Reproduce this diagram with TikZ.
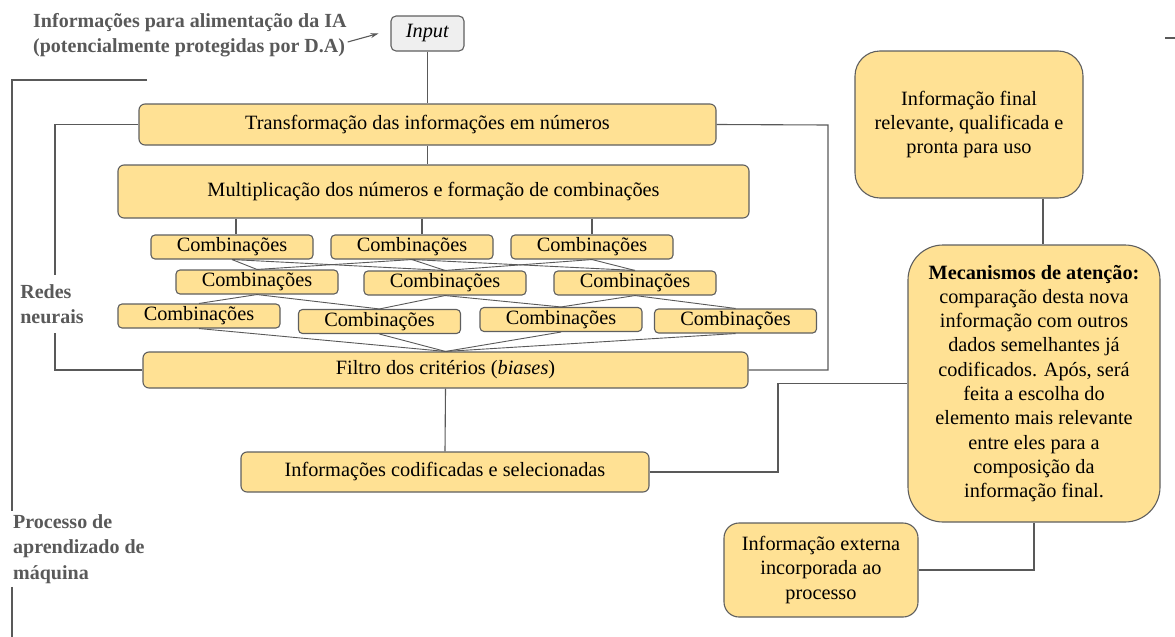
\documentclass[tikz,border=0pt]{standalone}
\usepackage{fontspec}
\setmainfont{Liberation Serif}
\usepackage{tikz}
\usetikzlibrary{arrows.meta}
\definecolor{boxfill}{HTML}{FFE194}
\definecolor{boxline}{HTML}{5F5F5F}
\definecolor{wire}{HTML}{595959}
\definecolor{notegray}{HTML}{595959}
\definecolor{inputfill}{HTML}{EFEFEF}

\begin{document}
\begin{tikzpicture}[
			x=1pt, y=-1pt,
			stepbox/.style={rectangle, draw=boxline, fill=boxfill, line width=1.1pt, rounded corners=6pt, inner sep=0pt, align=center, font=\fontsize{20.3}{24.3}\selectfont},
			combbox/.style={stepbox, minimum width=162pt, minimum height=24pt, rounded corners=4pt},
			notetext/.style={text=notegray, font=\fontsize{20}{25.5}\selectfont\bfseries, align=left, inner sep=1pt},
			wires/.style={draw=wire, line width=1.1pt},
		]
			\useasboundingbox (0,0) rectangle (1175,637);
		
			%Nodes
			\node[notetext, anchor=west]	(info)	at (32,35)	{Informações para alimentação da IA\\(potencialmente protegidas por D.A)};
			\node[stepbox, fill=inputfill, minimum width=73pt, minimum height=35pt, rounded corners=5pt]	(in)	at (427.5,33.5)	{\textit{Input}};
			\node[stepbox, minimum width=577pt, minimum height=41pt]	(trans)	at (427.5,124.5)	{Transformação das informações em números};
			\node[stepbox, minimum width=631pt, minimum height=53pt]	(mult)	at (433.5,191.5)	{Multiplicação dos números e formação de combinações};
		
			\node[combbox]	(a1)	at (232,247)	{Combinações};
			\node[combbox]	(a2)	at (412,247)	{Combinações};
			\node[combbox]	(a3)	at (592,247)	{Combinações};
		
			\node[combbox]	(b1)	at (257,282)	{Combinações};
			\node[combbox]	(b2)	at (445,283)	{Combinações};
			\node[combbox]	(b3)	at (635,283)	{Combinações};
		
			\node[combbox]	(c1)	at (199,316)	{Combinações};
			\node[combbox]	(c2)	at (379.5,321.5)	{Combinações};
			\node[combbox]	(c3)	at (561,319.5)	{Combinações};
			\node[combbox]	(c4)	at (735.5,321)	{Combinações};
		
			\node[stepbox, minimum width=605pt, minimum height=36pt]	(filter)	at (445.5,370)	{Filtro dos critérios (\textit{biases})};
			\node[stepbox, minimum width=408pt, minimum height=40pt]	(cod)	at (445,472)	{Informações codificadas e selecionadas};
		
			\node[stepbox, minimum width=228pt, minimum height=147pt, rounded corners=25pt]	(final)	at (969,124.5)	{Informação final\\relevante, qualificada e\\pronta para uso};
			\node[stepbox, minimum width=252pt, minimum height=277pt, rounded corners=35pt]	(mec)	at (1034,383.5)	{\textbf{Mecanismos de atenção:}\\comparação desta nova\\informação com outros\\dados semelhantes já\\codificados. Após, será\\feita a escolha do\\elemento mais relevante\\entre eles para a\\composição da\\informação final.};
			\node[stepbox, minimum width=194pt, minimum height=94pt, rounded corners=15pt]	(ext)	at (821,570)	{Informação externa\\incorporada ao\\processo};
		
			\node[notetext, inner ysep=9pt]	(redes)	at (52,304)	{Redes\\neurais};
			\node[notetext, anchor=west, inner ysep=3pt]	(proc)	at (12,549)	{Processo de\\aprendizado de\\máquina};
		
			\coordinate	(rt)	at (828,125);
			\coordinate	(jc)	at (778,472);
			\coordinate	(pstart)	at (147,80);
			\coordinate	(pend)	at (12,637);
			\coordinate	(edge1)	at (1165,38);
			\coordinate	(edge2)	at (1175,38);
		
			%Lines
			\draw[wires, -{Stealth[length=8pt, width=5pt]}]	([yshift=-7pt]info.east) -- ([xshift=-12pt]in.west);
			\draw[wires]	(in.south) -- (trans.north);
			\draw[wires]	(trans.south) -- (trans.south |- mult.north);
			\draw[wires]	([xshift=4pt]a1.north |- mult.south) -- ([xshift=4pt]a1.north);
			\draw[wires]	([xshift=10pt]a2.north |- mult.south) -- ([xshift=10pt]a2.north);
			\draw[wires]	(a3.north |- mult.south) -- (a3.north);
		
			\foreach \i/\j in {a1/b1, a1/b2, a2/b1, a2/b2, a2/b3, a3/b2, a3/b3}
				\draw[wires, line width=0.9pt]	(\i.south) -- (\j.north);
			\foreach \i/\j in {b1/c1, b1/c2, b2/c2, b2/c3, b3/c3, b3/c4}
				\draw[wires, line width=0.9pt]	(\i.south) -- (\j.north);
			\foreach \i in {c1, c2, c3, c4}
				\draw[wires, line width=0.9pt]	(\i.south) -- (filter.north);
		
			\draw[wires]	(trans.west) -| ([xshift=3pt]redes.north);
			\draw[wires]	([xshift=3pt]redes.south) |- (filter.west);
			\draw[wires]	(trans.east) -- (rt) |- (filter.east);
			\draw[wires]	(filter.south) -- (cod.north);
			\draw[wires]	(cod.east) -- (jc) |- (mec.west);
			\draw[wires]	([xshift=74pt]final.south) -- ([xshift=9pt]mec.north);
			\draw[wires]	(ext.east) -| (mec.south);
		
			\draw[wires]	(pstart) -| (proc.north west);
			\draw[wires]	(proc.south west) -- (pend);
			\draw[wires]	(edge1) -- (edge2);
		
		\end{tikzpicture}
\end{document}
